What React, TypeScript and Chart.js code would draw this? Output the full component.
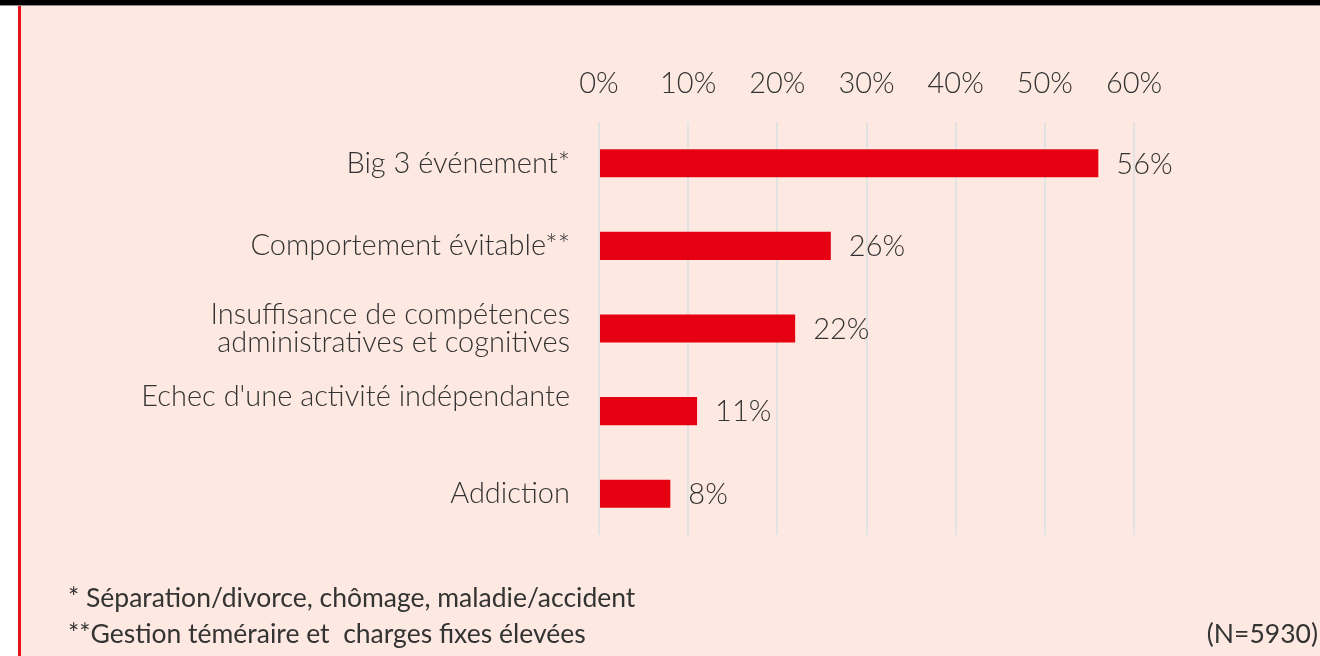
import React, { useEffect, useRef } from "react";
import { Chart, registerables } from "chart.js";
Chart.register(...registerables);

const categories: string[][] = [
  ["Big 3 événement*"],
  ["Comportement évitable**"],
  ["Insuffisance de compétences", "administratives et cognitives"],
  ["Echec d'une activité indépendante", ""],
  ["Addiction"],
];
const values = [56, 26, 22, 11, 8];
const xMin = 0;
const xMax = 60;
const xStep = 10;
const footnote1 = "* Séparation/divorce, chômage, maladie/accident";
const footnote2 = "**Gestion téméraire et  charges fixes élevées";
const sampleNote = "(N=5930)";

const FONT = "Lato, 'Open Sans', sans-serif";
const TEXT = "#333333";
const BG = "#fde9e1";
const BAR = "#e50012";
const LABEL_SIZE = 29;
const LABEL_WEIGHT = "300";

const framePlugin = {
  id: "frame",
  beforeDraw(chart: any) {
    const { ctx, width, height } = chart;
    ctx.save();
    ctx.fillStyle = "#ffffff";
    ctx.fillRect(0, 0, width, height);
    ctx.fillStyle = BG;
    ctx.fillRect(21, 6, width - 21, height - 6);
    ctx.fillStyle = "#000000";
    ctx.fillRect(0, 0, width, 5);
    ctx.fillStyle = "#8a8a8a";
    ctx.fillRect(0, 5, width, 1);
    ctx.fillStyle = "#e8101c";
    ctx.fillRect(18, 6, 3, height - 6);
    ctx.restore();
  },
};

const valueLabelPlugin = {
  id: "valueLabels",
  afterDatasetsDraw(chart: any) {
    const { ctx } = chart;
    const meta = chart.getDatasetMeta(0);
    ctx.save();
    ctx.font = `${LABEL_WEIGHT} ${LABEL_SIZE}px ${FONT}`;
    ctx.fillStyle = TEXT;
    ctx.textAlign = "left";
    ctx.textBaseline = "middle";
    meta.data.forEach((bar: any, i: number) => {
      ctx.fillText(`${values[i]}%`, bar.x + 18, bar.y + 1);
    });
    ctx.restore();
  },
};

export default function App() {
  const ref = useRef<HTMLCanvasElement>(null);
  useEffect(() => {
    if (!ref.current) return;
    const chart = new Chart(ref.current, {
      type: "bar",
      data: {
        labels: categories,
        datasets: [
          {
            data: values,
            backgroundColor: BAR,
            borderWidth: 0,
            barPercentage: 0.34,
            categoryPercentage: 1,
          },
        ],
      },
      options: {
        indexAxis: "y",
        animation: false,
        responsive: false,
        maintainAspectRatio: false,
        layout: { padding: { left: 0, right: 186, top: 0, bottom: 121 } },
        plugins: { legend: { display: false }, tooltip: { enabled: false } },
        scales: {
          x: {
            position: "top",
            min: xMin,
            max: xMax,
            ticks: {
              stepSize: xStep,
              callback: (v: any) => `${v}%`,
              font: { family: FONT, size: LABEL_SIZE, weight: LABEL_WEIGHT },
              color: TEXT,
              padding: 21,
            },
            grid: { color: "#e2e2e2", lineWidth: 2, drawTicks: false },
            border: { display: false },
            afterFit: (s: any) => {
              s.height = 122;
            },
          },
          y: {
            ticks: {
              font: { family: FONT, size: LABEL_SIZE, weight: LABEL_WEIGHT, lineHeight: 0.97 },
              color: TEXT,
              padding: 29,
            },
            grid: { display: false, drawTicks: false },
            border: { display: false },
            afterFit: (s: any) => {
              s.width = 599;
            },
          },
        },
      },
      plugins: [framePlugin, valueLabelPlugin],
    });
    return () => chart.destroy();
  }, []);

  const noteStyle: React.CSSProperties = {
    position: "absolute",
    fontFamily: FONT,
    fontSize: 26.5,
    fontWeight: 400,
    color: TEXT,
    lineHeight: "30px",
    whiteSpace: "pre",
  };

  return (
    <div style={{ position: "fixed", left: 0, top: 0, width: 1320, height: 656, overflow: "hidden" }}>
      <canvas ref={ref} width={1320} height={656} style={{ display: "block" }} />
      <div style={{ ...noteStyle, left: 68, top: 582 }}>{footnote1}</div>
      <div style={{ ...noteStyle, left: 68, top: 618 }}>{footnote2}</div>
      <div style={{ ...noteStyle, right: 2, top: 618 }}>{sampleNote}</div>
    </div>
  );
}
